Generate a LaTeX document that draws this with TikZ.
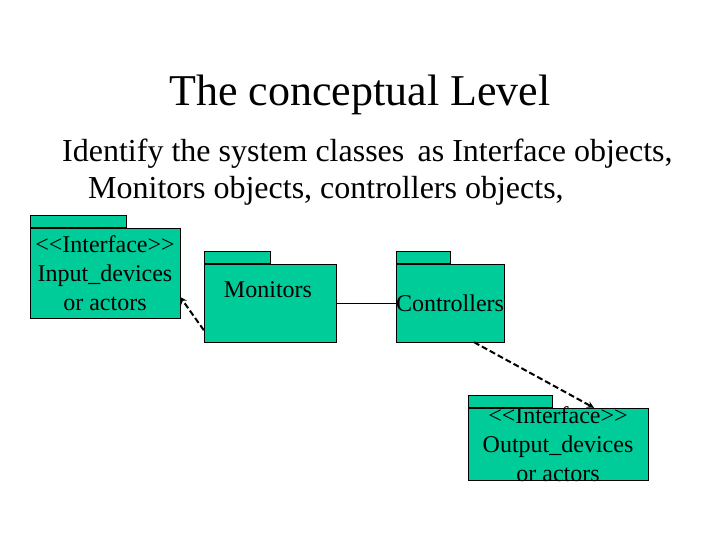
\documentclass[tikz,border=0pt]{standalone}
\usepackage{fontspec}
\setmainfont{Liberation Serif}
\usetikzlibrary{arrows}
\definecolor{pkggreen}{RGB}{0,204,153}

\begin{document}
\begin{tikzpicture}[x=1pt, y=-1pt, >=stealth,
  body/.style={draw, fill=pkggreen, inner sep=0pt},
  pkgtext/.style={font=\fontsize{24}{29}\selectfont, align=center},
  dep/.style={->, line width=2pt, dash pattern=on 6pt off 3pt}]

\useasboundingbox (0,0) rectangle (720,540);

\node(title) at (360,95){\fontsize{44}{50}\selectfont The conceptual Level};
\node[anchor=base west, inner sep=0pt](line1) at (62,162){\fontsize{32}{38}\selectfont Identify the system classes\, as Interface objects,};
\node[anchor=base west, inner sep=0pt](line2) at (88,199){\fontsize{32}{38}\selectfont Monitors objects, controllers objects,};

% packages
\node[body, minimum width=150, minimum height=90](input) at (105,273){};
\node[body, minimum width=96, minimum height=12, anchor=south west](inputtab) at (input.north west){};
\node[pkgtext](inputtext) at (input){{<}{<}Interface{>}{>}\\Input\_devices\\or actors};

\node[body, minimum width=132, minimum height=78](monitors) at (270,303){};
\node[body, minimum width=66, minimum height=12, anchor=south west](monitorstab) at (monitors.north west){};
\node[pkgtext](monitorstext) at (268,290){Monitors};

\node[body, minimum width=108, minimum height=78](controllers) at (450,303){};
\node[body, minimum width=54, minimum height=12, anchor=south west](controllerstab) at (controllers.north west){};
\node[pkgtext](controllerstext) at (controllers){Controllers};

\node[body, minimum width=180, minimum height=72](output) at (558,444){};
\node[body, minimum width=84, minimum height=12, anchor=south west](outputtab) at (output.north west){};
\node[pkgtext](outputtext) at (output){{<}{<}Interface{>}{>}\\Output\_devices\\or actors};

% links
\draw (monitors.east) -- (controllers.west);
\draw[dep] ([yshift=12pt]monitors.south west) -- ([yshift=-24pt]input.east);
\draw[dep] ([xshift=24pt]controllers.south) -- ([xshift=36pt]output.north);
\end{tikzpicture}
\end{document}
